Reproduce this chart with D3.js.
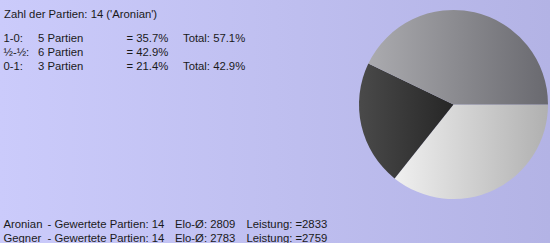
<!DOCTYPE html>
<html><head><meta charset="utf-8">
<script src="https://cdn.jsdelivr.net/npm/d3@7"></script>
<style>body{margin:0;padding:0;overflow:hidden}</style>
</head><body>
<script>
const title = "Zahl der Partien: 14 ('Aronian')";
const resultLabels = ["1-0:", "½-½:", "0-1:"];
const resultCounts = [5, 6, 3];
const resultPct = ["35.7%", "42.9%", "21.4%"];
const resultTotals = ["Total: 57.1%", "", "Total: 42.9%"];
// pie order clockwise from 3 o'clock: wins, losses, draws
const pieKeys = ["1-0", "0-1", "½-½"];
const pieValues = [5, 3, 6];
const pieColors = [["#f0f0f0", "#b0b0b0"], ["#4a4a4a", "#262626"], ["#ababaf", "#69696f"]];
const footerNames = ["Aronian", "Gegner"];
const footerGames = [14, 14];
const footerElo = [2809, 2783];
const footerPerf = [2833, 2759];

const W = 550, H = 243;
const svg = d3.select("body").append("svg").attr("width", W).attr("height", H);
const defs = svg.append("defs");
const bg = defs.append("linearGradient").attr("id", "bg").attr("x1", 0).attr("x2", 1).attr("y1", 0).attr("y2", 0);
bg.append("stop").attr("offset", 0).attr("stop-color", "#cbcbfb");
bg.append("stop").attr("offset", 1).attr("stop-color", "#b3b3e5");
svg.append("rect").attr("width", W).attr("height", H).attr("fill", "url(#bg)");

const font = "'Liberation Sans', Arial, sans-serif";
const txt = svg.append("g").attr("font-family", font).attr("font-size", 11.3).attr("fill", "#1a1a1a");
txt.append("text").attr("x", 4).attr("y", 17.5).text(title);

const rowY = d3.scaleLinear().domain([0, 1]).range([41.5, 55.5]);
resultLabels.forEach((l, i) => {
  const y = rowY(i);
  txt.append("text").attr("x", 3.5).attr("y", y).text(l);
  txt.append("text").attr("x", 38).attr("y", y).text(resultCounts[i] + " Partien");
  txt.append("text").attr("x", 126.5).attr("y", y).text("= " + resultPct[i]);
  if (resultTotals[i]) txt.append("text").attr("x", 183).attr("y", y).text(resultTotals[i]);
});

const footY = d3.scaleLinear().domain([0, 1]).range([228.3, 241.5]);
footerNames.forEach((n, i) => {
  const y = footY(i);
  txt.append("text").attr("x", 3.5).attr("y", y).text(n);
  txt.append("text").attr("x", 47.5).attr("y", y).text("- Gewertete Partien: " + footerGames[i]);
  txt.append("text").attr("x", 175).attr("y", y).text("Elo-Ø: " + footerElo[i]);
  txt.append("text").attr("x", 246.5).attr("y", y).text("Leistung: =" + footerPerf[i]);
});

const cx = 453.5, cy = 104.5, r = 94.5;
const pie = d3.pie().sort(null).startAngle(Math.PI / 2).endAngle(Math.PI / 2 + 2 * Math.PI);
const arcs = pie(pieValues);
const arc = d3.arc().innerRadius(0).outerRadius(r);
pieColors.forEach((c, i) => {
  const g = defs.append("linearGradient").attr("id", "sl" + i).attr("x1", 0).attr("x2", 1).attr("y1", 0).attr("y2", 0);
  g.append("stop").attr("offset", 0).attr("stop-color", c[0]);
  g.append("stop").attr("offset", 1).attr("stop-color", c[1]);
});
svg.append("g").attr("transform", `translate(${cx},${cy})`)
  .selectAll("path").data(arcs).join("path")
  .attr("d", arc).attr("fill", (d, i) => `url(#sl${i})`)
  .attr("data-key", (d, i) => pieKeys[i]);
</script>
</body></html>
